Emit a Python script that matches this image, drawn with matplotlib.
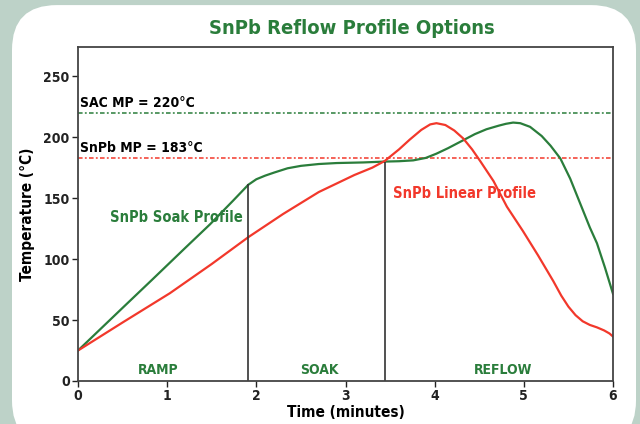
import matplotlib
matplotlib.use("Agg")
import matplotlib.pyplot as plt
from matplotlib.patches import FancyBboxPatch

plt.rcParams['font.family'] = ['Liberation Sans Narrow', 'DejaVu Sans']
plt.rcParams['font.stretch'] = 'condensed'

GREEN = '#2a7d3b'
RED = '#f2382b'

# SnPb soak profile (minutes, degC)
soak_t = [0, 0.5, 0.83, 1.2, 1.48, 1.74, 1.91, 2.0, 2.1, 2.2, 2.35, 2.5, 2.7, 2.9,
          3.2, 3.44, 3.6, 3.76, 3.9, 4.02, 4.15, 4.32, 4.45, 4.58, 4.72, 4.8, 4.88,
          4.96, 5.07, 5.2, 5.3, 5.41, 5.52, 5.63, 5.74, 5.82, 5.91, 6.0]
soak_T = [25, 60, 83, 109, 128.5, 148, 161, 165.5, 168.5, 171, 174.5, 176.5, 178, 178.8,
          179.3, 180, 180.3, 181, 183, 186.5, 191, 197.5, 202.5, 206.5, 209.5, 211, 212,
          211.5, 208.5, 201, 193, 182.5, 166, 146, 126, 113, 93, 71.5]

# SnPb linear profile
lin_t = [0, 0.5, 1.03, 1.5, 1.91, 2.3, 2.7, 2.9, 3.1, 3.3, 3.44, 3.6, 3.72, 3.85,
         3.95, 4.02, 4.12, 4.22, 4.32, 4.42, 4.51, 4.66, 4.81, 4.99, 5.16, 5.33,
         5.42, 5.5, 5.58, 5.66, 5.74, 5.82, 5.9, 5.96, 6.0]
lin_T = [25, 48, 72, 96, 118, 137, 155, 162, 169, 175, 180.5, 190, 198, 206,
         210.5, 211.5, 210, 205.5, 199, 190, 180.5, 164, 143, 123, 103, 82,
         70, 61, 54, 49, 46, 44, 41.5, 39, 36.5]

sac_mp = 220
snpb_mp = 183
phase_bounds = [1.91, 3.44]
phase_tops = [162, 180]
phase_names = ['RAMP', 'SOAK', 'REFLOW']
phase_centers = [0.9, 2.71, 4.77]

fig = plt.figure(figsize=(6.4, 4.24), dpi=100)
fig.patch.set_facecolor('#bdd2c8')
card = FancyBboxPatch((12 / 640, -0.05), 624 / 640, 1.038, transform=fig.transFigure,
                      boxstyle='round,pad=0,rounding_size=0.07', facecolor='white',
                      edgecolor='none', mutation_aspect=640 / 424, zorder=-5)
fig.patches.append(card)

ax = fig.add_axes([78 / 640, 1 - 381 / 424, 535 / 640, 334 / 424])
ax.set_zorder(2)
ax.set_xlim(0, 6)
ax.set_ylim(0, 274)

ax.axhline(sac_mp, color=GREEN, lw=1.1, dashes=(3, 1.5, 1.2, 1.5))
ax.axhline(snpb_mp, color=RED, lw=1.1, dashes=(3, 1.5, 1.2, 1.5))

ax.plot(soak_t, soak_T, color=GREEN, lw=1.6)
ax.plot(lin_t, lin_T, color=RED, lw=1.6)

ax.vlines(phase_bounds, 0, phase_tops, color='#333333', lw=1.2)

for name, c in zip(phase_names, phase_centers):
    ax.text(c, 9, name, color=GREEN, fontsize=10, fontweight='bold', ha='center', va='center')

ax.text(0.02, sac_mp + 2, 'SAC MP = 220°C', fontsize=10, fontweight='bold', va='bottom')
ax.text(0.02, snpb_mp + 2, 'SnPb MP = 183°C', fontsize=10, fontweight='bold', va='bottom')
ax.text(0.36, 134, 'SnPb Soak Profile', color=GREEN, fontsize=10.5, fontweight='bold', va='center')
ax.text(3.53, 154, 'SnPb Linear Profile', color=RED, fontsize=10.5, fontweight='bold', va='center')

ax.set_xticks(range(0, 7))
ax.set_yticks(range(0, 251, 50))
ax.tick_params(direction='out', length=4, width=1, labelsize=10, pad=2, colors='#222222')
for lab in ax.get_xticklabels() + ax.get_yticklabels():
    lab.set_fontweight('bold')
for s in ax.spines.values():
    s.set_color('#444444')
    s.set_linewidth(1.3)

ax.set_xlabel('Time (minutes)', fontsize=11, fontweight='bold', labelpad=1)
ax.set_ylabel('Temperature (°C)', fontsize=11, fontweight='bold', labelpad=6)

fig.text(352 / 640, 1 - 28 / 424, 'SnPb Reflow Profile Options', color=GREEN,
         fontsize=14.5, fontweight='bold', ha='center', va='center')

fig.savefig('out.png', dpi=100, facecolor=fig.get_facecolor())
